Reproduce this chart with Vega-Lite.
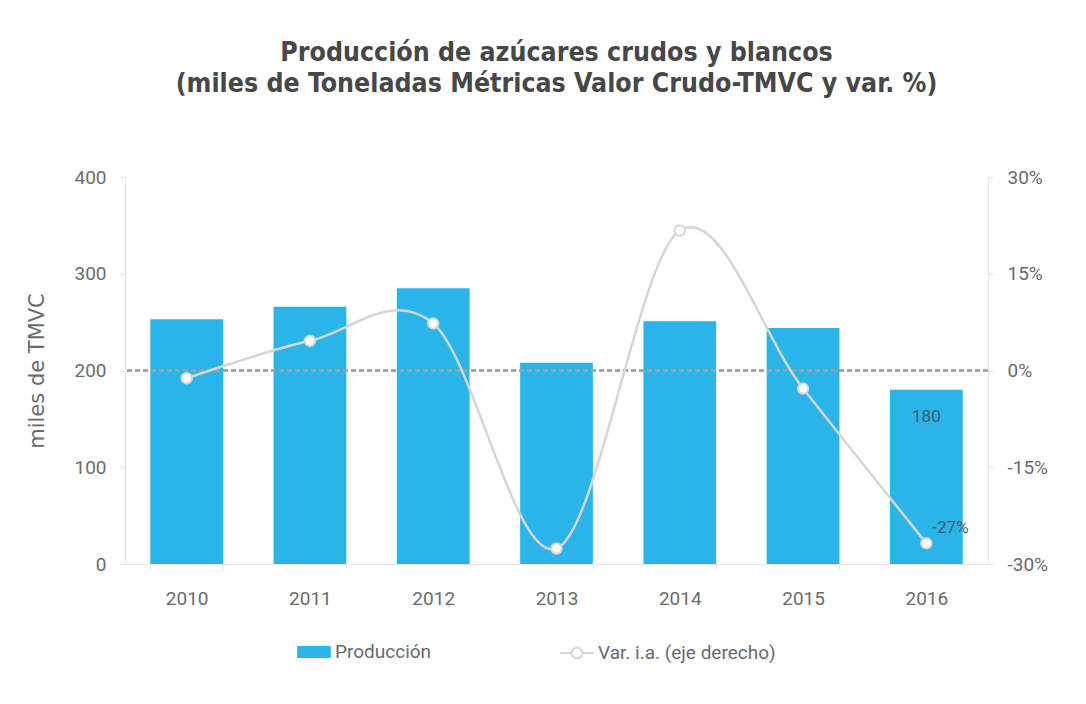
{
  "$schema": "https://vega.github.io/schema/vega-lite/v6.json",
  "autosize": "none",
  "width": 863,
  "height": 387,
  "padding": {"left": 125, "top": 177, "right": 98, "bottom": 140},
  "background": "white",
  "title": {
    "text": ["Producción de azúcares crudos y blancos", "(miles de Toneladas Métricas Valor Crudo-TMVC y var. %)"],
    "font": "DejaVu Sans Condensed",
    "fontSize": 26.5,
    "fontWeight": "bold",
    "color": "#474747",
    "lineHeight": 31,
    "anchor": "middle",
    "offset": 71
  },
  "data": {
    "values": [
      {"year": "2010", "prod": 253, "var": -1.2, "prod_label": "", "var_label": ""},
      {"year": "2011", "prod": 266, "var": 4.6, "prod_label": "", "var_label": ""},
      {"year": "2012", "prod": 285, "var": 7.3, "prod_label": "", "var_label": ""},
      {"year": "2013", "prod": 208, "var": -27.6, "prod_label": "", "var_label": ""},
      {"year": "2014", "prod": 251, "var": 21.7, "prod_label": "", "var_label": ""},
      {"year": "2015", "prod": 244, "var": -2.8, "prod_label": "", "var_label": ""},
      {"year": "2016", "prod": 180, "var": -26.8, "prod_label": "180", "var_label": "-27%"}
    ]
  },
  "encoding": {
    "x": {
      "field": "year",
      "type": "ordinal",
      "scale": {"paddingInner": 0.41, "paddingOuter": 0.205},
      "axis": {
        "title": null,
        "labelAngle": 0,
        "labelFont": "Roboto",
        "labelFontSize": 19,
        "labelColor": "#6b6b6b",
        "labelPadding": 20,
        "tickSize": 5,
        "tickBand": "extent",
        "tickColor": "#e6e6e6",
        "domainColor": "#e6e6e6"
      }
    }
  },
  "layer": [
    {
      "encoding": {
        "y": {
          "field": "prod",
          "type": "quantitative",
          "scale": {"domain": [0, 400], "nice": false},
          "axis": {
            "orient": "left",
            "title": "miles de TMVC",
            "values": [0, 100, 200, 300, 400],
            "grid": false,
            "labelFont": "Roboto",
            "labelFontSize": 19,
            "labelColor": "#6b6b6b",
            "labelPadding": 14,
            "tickSize": 5,
            "tickColor": "#e0e0e0",
            "domainColor": "#e6e6e6",
            "titleFont": "DejaVu Sans",
            "titleFontSize": 21,
            "titleFontWeight": "normal",
            "titleColor": "#6b6b6b",
            "titlePadding": 26
          }
        }
      },
      "layer": [
        {
          "mark": {"type": "bar", "color": "#2ab4e8"},
          "encoding": {
            "fill": {
              "datum": "Producción",
              "scale": {"range": ["#2ab4e8"]},
              "legend": {
                "title": null,
                "orient": "none",
                "legendX": 177,
                "legendY": 463,
                "symbolType": "M-1.4,-0.5H1.4V0.5H-1.4Z",
                "symbolSize": 576,
                "symbolStrokeWidth": 0,
                "labelFont": "Roboto",
                "labelFontSize": 19,
                "labelColor": "#6b6b6b",
                "labelOffset": 9,
                "labelLimit": 400
              }
            }
          }
        },
        {
          "mark": {"type": "text", "font": "Roboto", "fontSize": 17, "color": "#3f5b72", "dy": 27, "baseline": "middle"},
          "encoding": {"text": {"field": "prod_label"}}
        }
      ]
    },
    {
      "encoding": {
        "y": {
          "field": "var",
          "type": "quantitative",
          "scale": {"domain": [-30, 30], "nice": false},
          "axis": {
            "orient": "right",
            "title": null,
            "values": [-30, -15, 0, 15, 30],
            "labelExpr": "datum.value + '%'",
            "grid": false,
            "labelFont": "Roboto",
            "labelFontSize": 19,
            "labelColor": "#6b6b6b",
            "labelPadding": 14,
            "tickSize": 5,
            "tickColor": "#e0e0e0",
            "domainColor": "#e6e6e6"
          }
        }
      },
      "layer": [
        {
          "mark": {"type": "rule", "color": "#a0a0a0", "strokeDash": [5, 3], "strokeWidth": 1.5},
          "encoding": {"x": null, "y": {"datum": 0}}
        },
        {
          "mark": {"type": "line", "interpolate": "cardinal", "strokeWidth": 2.5},
          "encoding": {
            "stroke": {
              "datum": "Var. i.a. (eje derecho)",
              "scale": {"range": ["#d6d6d6"]},
              "legend": {
                "title": null,
                "orient": "none",
                "legendX": 439,
                "legendY": 463,
                "symbolType": "M-1.4,0H-0.45M0.45,0H1.4M-0.45,0A0.45,0.45 0 1,1 0.45,0A0.45,0.45 0 1,1 -0.45,0",
                "symbolSize": 576,
                "symbolFillColor": "white",
                "symbolStrokeColor": "#d0d0d0",
                "symbolStrokeWidth": 2,
                "labelFont": "Roboto",
                "labelFontSize": 19,
                "labelColor": "#6b6b6b",
                "labelOffset": 8,
                "labelLimit": 400
              }
            }
          }
        },
        {
          "mark": {"type": "point", "filled": true, "fill": "white", "stroke": "#d6d6d6", "strokeWidth": 2, "size": 110, "opacity": 1},
          "encoding": {}
        },
        {
          "mark": {"type": "text", "font": "Roboto", "fontSize": 17, "color": "#3f5b72", "dx": 6, "dy": -15, "align": "left", "baseline": "middle"},
          "encoding": {"text": {"field": "var_label"}}
        }
      ]
    }
  ],
  "resolve": {"scale": {"y": "independent"}},
  "config": {
    "view": {"stroke": null}
  }
}
